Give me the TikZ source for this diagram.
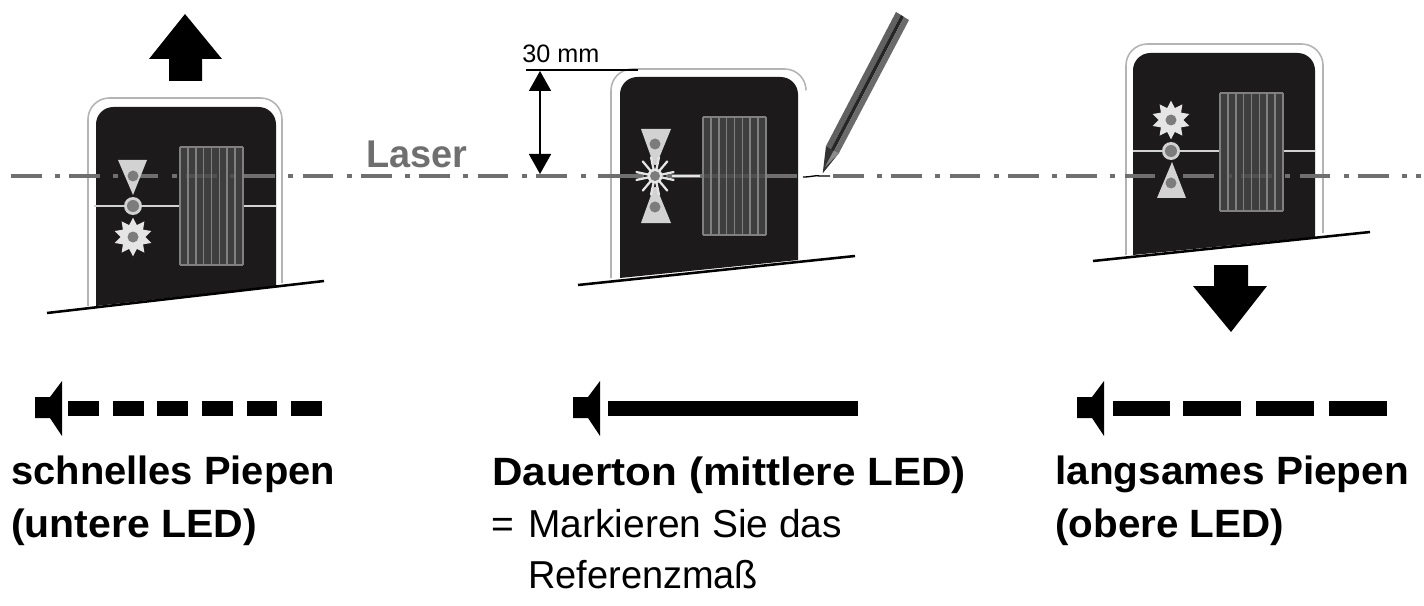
\documentclass[tikz,border=0pt]{standalone}
\usepackage{fontspec}
\setmainfont{Liberation Sans}
\usetikzlibrary{arrows.meta,shapes.geometric}

\definecolor{bodyblack}{HTML}{1C1A1B}
\definecolor{lasergray}{HTML}{6F6F6F}
\definecolor{framegray}{HTML}{B4B4B4}
\definecolor{ledlight}{HTML}{D2D2D2}
\definecolor{leddot}{HTML}{7C7C7C}

\tikzset{
  x=0.75pt, y=-0.75pt,
  laserline/.style={draw=lasergray, line width=3pt},
  laserdash/.style={laserline, dash pattern=on 22.9pt off 10.1pt on 3.75pt off 7pt},
  baseline slope/.style={draw=black, line width=1.9pt},
  frame/.style={draw=framegray, line width=1.2pt, rounded corners=16pt},
  casing/.style={fill=bodyblack, rounded corners=13pt},
  panelfill/.style={fill=black!72!white, fill opacity=0.8},
  panelline/.style={draw=black!50, line width=1.15pt},
  strip/.style={draw=ledlight, line width=1.6pt},
  ledcone/.style={fill=ledlight},
  leddotmark/.style={fill=leddot},
  litstar/.style={star, star points=10, star point ratio=1.55, minimum size=29pt,
    inner sep=0pt, fill=black!10},
  ray/.style={draw=black!10, line width=1.7pt, line cap=round},
  bigarrow/.style={fill=black},
  beepbar/.style={fill=black},
  dimline/.style={draw=black, line width=1.2pt},
  dimarrow/.style={dimline, {Triangle[width=16.5pt,length=15pt]}-{Triangle[width=16.5pt,length=15pt]}},
  boldlabel/.style={font=\fontsize{29.6pt}{32pt}\selectfont\bfseries, inner sep=0pt,
    anchor=base west, transform shape},
  plainlabel/.style={font=\fontsize{29.2pt}{32pt}\selectfont, inner sep=0pt,
    anchor=base west, transform shape},
}

% Casing of one instrument: #1 left, #2 top, #3 right, #4 bottom left, #5 bottom right
\newcommand\casingshape[5]{
  \fill[casing] (#1,#4) -- (#1,#2) -- (#3,#2) -- (#3,#5);
}
% Receiver window with its vertical ribs: #1 left, #2 top
\newcommand\ribpanel[2]{
  \fill[panelfill] (#1,#2) rectangle ({#1+63},{#2+118});
  \foreach \k in {0,...,8}
    \draw[panelline] ({#1+\k*7.875},#2) -- ({#1+\k*7.875},{#2+118});
  \draw[panelline] (#1,#2) -- ({#1+63},#2);
  \draw[panelline] (#1,{#2+118}) -- ({#1+63},{#2+118});
}
% Dark LED with a ring around it: #1 x, #2 y
\newcommand\ringled[2]{
  \fill[ledlight] (#1,#2) circle[radius=9];
  \fill[leddotmark] (#1,#2) circle[radius=6];
}
% Speaker symbol: #1 left edge
\newcommand\speakersymbol[1]{
  \fill[black] (#1,397) -- ({#1+15},397) -- ({#1+27},381) -- ({#1+27},436)
    -- ({#1+15},418) -- (#1,418) -- cycle;
}

\begin{document}
\begin{tikzpicture}
\useasboundingbox (0,0) rectangle (1424,606);

% ---------- Left instrument ----------
\draw[frame] (88,306) -- (88,98) -- (282,98) -- (282,283);
\casingshape{96}{107}{276}{306}{286}
\draw[strip] (94,206) -- (180,206) (243,206) -- (276,206);
\draw[baseline slope] (47,313) -- (324,281);

% ---------- Middle instrument ----------
\draw[frame] (611,278) -- (611,69) -- (806,69) -- (806,90);
\casingshape{620}{77}{798}{278}{260}
\draw[baseline slope] (578,285) -- (855,256);

% ---------- Right instrument ----------
\draw[frame] (1126,255) -- (1126,44) -- (1323,44) -- (1323,233);
\casingshape{1133}{53}{1315}{255}{237}
\draw[strip] (1133,151) -- (1220,151) (1282,151) -- (1315,151);
\draw[baseline slope] (1093,261) -- (1370,232);

% ---------- Laser line ----------
\coordinate (laserA) at (11,176);
\coordinate (laserB) at (571,176);
\coordinate (laserC) at (598,176);
\coordinate (laserD) at (797,176);
\coordinate (laserE) at (833,176);
\coordinate (laserF) at (1421,176);
\coordinate (dotM) at (581,176);
\coordinate (dotN) at (586,176);
\draw[laserdash] (laserA) -- (laserB);
\draw[laserline] (dotM) -- (dotN);
\draw[laserline] (laserC) -- (laserD);
\draw[laserdash] (laserE) -- (laserF);

% ---------- Receiver windows ----------
\ribpanel{180}{147}
\ribpanel{703}{117}
\ribpanel{1220}{93}

% ---------- Left LEDs: lower one lit ----------
\fill[ledcone] (118,160) -- (147,160) -- (133,195) -- cycle;
\fill[leddotmark] (133,176) circle[radius=5.5];
\ringled{133}{206}
\node[litstar] (starlow) at (133,237) {};
\fill[black!10] (133,237) circle[radius=12];
\fill[leddotmark] (133,237) circle[radius=5.5];

% ---------- Middle LEDs: centre one lit ----------
\fill[ledcone] (641,129) -- (671,129) -- (655,168) -- cycle;
\fill[ledcone] (641,223) -- (671,223) -- (655,184) -- cycle;
\fill[leddotmark] (655,144) circle[radius=5.5];
\fill[leddotmark] (655,207) circle[radius=5.5];
\fill[bodyblack] (655,176) circle[radius=11];
\foreach \a in {12,50,78,102,130,168,192,230,258,282,310,348}
  \draw[ray] (655,176) -- ++({\a}:19);
\draw[laserline] (668,176) -- (703,176);
\draw[draw=black!10, line width=1.1pt] (672,176) -- (700,176);
\fill[black!10] (655,176) circle[radius=7.5];
\fill[leddotmark] (655,176) circle[radius=5];

% ---------- Right LEDs: upper one lit ----------
\node[litstar] (starhigh) at (1171,120) {};
\fill[black!10] (1171,120) circle[radius=12];
\fill[leddotmark] (1171,120) circle[radius=5.5];
\ringled{1171}{151}
\fill[ledcone] (1157,198) -- (1186,198) -- (1172,162) -- cycle;
\fill[leddotmark] (1171,183) circle[radius=5.5];

% ---------- Direction arrows ----------
\fill[bigarrow] (185,14) -- (222,59) -- (202,59) -- (202,81) -- (169,81) -- (169,59) -- (149,59) -- cycle;
\fill[bigarrow] (1231,332) -- (1267,286) -- (1248,286) -- (1248,265) -- (1214,265) -- (1214,286) -- (1193,286) -- cycle;

% ---------- Reference dimension ----------
\coordinate (dimleft) at (526,70);
\coordinate (dimright) at (638,70);
\coordinate (dimtop) at (540,71);
\coordinate (dimbottom) at (540,174);
\draw[dimline] (dimleft) -- (dimright);
\draw[dimarrow] (dimtop) -- (dimbottom);
\node[font=\fontsize{18.9pt}{20pt}\selectfont, inner sep=0pt, anchor=base west, transform shape]
  (dimlabel) at (522,63) {30 mm};

% ---------- Pencil with its mark ----------
\fill[black!80] (822.7,173.3) -- (826,146) -- (839,153) -- cycle;
\fill[black!45] (825,167) -- (834,150) -- (839,153) -- cycle;
\fill[black!62] (826,146) -- (896,12) -- (901,15) -- (831,149) -- cycle;
\fill[black!85] (831,149) -- (901,15) -- (904,17) -- (834,151) -- cycle;
\fill[black!58] (834,151) -- (904,17) -- (909,20) -- (839,153) -- cycle;
\draw[black, line width=1pt] (803,177) .. controls (812,177) and (815,175) .. (820,176) -- (830,176);

% ---------- Laser caption ----------
\node[text=lasergray, font=\fontsize{29pt}{30pt}\selectfont\bfseries, inner sep=0pt, anchor=base west, xscale=0.98, transform shape]
  (laserlabel) at (366,168) {Laser};

% ---------- Beep patterns ----------
\speakersymbol{35}
\foreach \s/\e in {68/99,113/144,157/188,202/233,247/277,291/322}
  \fill[beepbar] (\s,401) rectangle (\e,416);
\speakersymbol{573}
\fill[beepbar] (608,401) rectangle (858,416);
\speakersymbol{1077}
\foreach \s/\e in {1113/1170,1183/1241,1256/1314,1329/1387}
  \fill[beepbar] (\s,401) rectangle (\e,416);

% ---------- Captions ----------
\node[boldlabel, xscale=1.011] (fasttop) at (11,484) {schnelles Piepen};
\node[boldlabel, xscale=1.038] (fastlow) at (11,537) {(untere LED)};
\node[boldlabel, xscale=1.069] (steadytop) at (492,485) {Dauerton (mittlere LED)};
\node[plainlabel] (eqsign) at (491,537) {=};
\node[plainlabel] (steadymid) at (528,537) {Markieren Sie das};
\node[plainlabel, xscale=0.975] (steadylow) at (528,588) {Referenzmaß};
\node[boldlabel, xscale=1.027] (slowtop) at (1055,484) {langsames Piepen};
\node[boldlabel, xscale=1.023] (slowlow) at (1055,537) {(obere LED)};
\end{tikzpicture}
\end{document}
